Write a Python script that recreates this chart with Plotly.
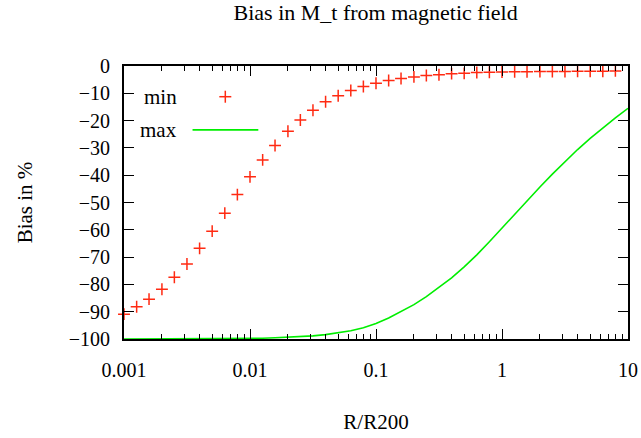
import plotly.graph_objects as go

# Sampled radii (R/R200) for the "min" curve, 10 points per decade
r_min = [0.001, 0.00126, 0.00158, 0.002, 0.00251, 0.00316, 0.00398, 0.00501, 0.00631, 0.00794,
         0.01, 0.0126, 0.0158, 0.02, 0.0251, 0.0316, 0.0398, 0.0501, 0.0631, 0.0794,
         0.1, 0.126, 0.158, 0.2, 0.251, 0.316, 0.398, 0.501, 0.631, 0.794,
         1.0, 1.26, 1.58, 2.0, 2.51, 3.16, 3.98, 5.01, 6.31, 7.94]
bias_min = [-90.9, -88.2, -85.4, -81.8, -77.4, -72.5, -66.8, -60.5, -53.9, -47.1,
            -40.6, -34.4, -29.1, -23.9, -19.8, -16.2, -13.1, -10.9, -9.0, -7.5,
            -6.3, -5.3, -4.6, -4.0, -3.5, -3.2, -2.8, -2.7, -2.4, -2.3,
            -2.2, -2.1, -2.1, -2.0, -2.0, -2.0, -1.9, -1.9, -1.9, -1.8]

# "max" curve
r_max = [0.001, 0.00316, 0.01, 0.0126, 0.0158, 0.02, 0.0251, 0.0316, 0.0398, 0.0501, 0.0631, 0.0794,
         0.1, 0.126, 0.158, 0.2, 0.251, 0.316, 0.398, 0.501, 0.631, 0.794,
         1.0, 1.26, 1.58, 2.0, 2.51, 3.16, 3.98, 5.01, 6.31, 7.94, 10.0]
bias_max = [-100.0, -99.97, -99.8, -99.7, -99.55, -99.4, -99.15, -98.85, -98.4, -97.8, -97.0, -95.9,
            -94.3, -92.3, -90.0, -87.4, -84.5, -81.2, -77.6, -73.6, -69.2, -64.4,
            -59.4, -54.3, -49.2, -44.3, -39.6, -35.0, -30.6, -26.5, -22.6, -19.0, -15.5]

x_tickvals = [0.001, 0.01, 0.1, 1, 10]
x_ticktext = ["0.001", "0.01", "0.1", "1", "10"]
x_minorvals = [m * d for d in (0.001, 0.01, 0.1, 1) for m in range(2, 10)]
y_tickvals = [0, -10, -20, -30, -40, -50, -60, -70, -80, -90, -100]

RED = "#ff2a12"
GREEN = "#00ee00"
FONT = "Liberation Serif, Times New Roman, serif"

fig = go.Figure()
fig.add_trace(go.Scatter(
    x=r_min, y=bias_min, mode="markers", name="min",
    marker=dict(symbol="cross-thin", size=8.5, color=RED,
                line=dict(color=RED, width=1.5)),
    cliponaxis=False,
))
fig.add_trace(go.Scatter(
    x=r_max, y=bias_max, mode="lines", name="max",
    line=dict(color=GREEN, width=1.6),
))

axis_common = dict(
    showgrid=False, zeroline=False, showline=True, linecolor="black", linewidth=2,
    mirror="allticks", ticks="inside", ticklen=10, tickwidth=1.2, tickcolor="black",
    tickfont=dict(family=FONT, size=20, color="black"), automargin=False,
)

fig.update_xaxes(
    type="log", range=[-3, 1], tickmode="array", tickvals=x_tickvals, ticktext=x_ticktext,
    ticklabelstandoff=12,
    minor=dict(tickmode="array", tickvals=x_minorvals, ticks="inside", ticklen=5,
               tickwidth=1.2, tickcolor="black", showgrid=False),
    title=dict(text="R/R200", font=dict(family=FONT, size=21, color="black"), standoff=34),
    **axis_common,
)
fig.update_yaxes(
    range=[-100, 0], tickvals=y_tickvals,
    ticklabelstandoff=8,
    title=dict(text="Bias in %", font=dict(family=FONT, size=21, color="black"), standoff=30),
    **axis_common,
)

# Key, gnuplot style: label first, sample after it
key_rows = [("min", 0.8875), ("max", 0.766)]
for label, yk in key_rows:
    fig.add_annotation(x=0.109, y=yk, xref="paper", yref="paper", text=label,
                       showarrow=False, xanchor="right", yanchor="middle",
                       font=dict(family=FONT, size=21, color="black"))
px_w, px_h = 504.0, 273.0
cx, cy = 0.201, 0.8875
fig.add_shape(type="line", xref="paper", yref="paper",
              x0=cx - 6 / px_w, x1=cx + 6 / px_w, y0=cy, y1=cy,
              line=dict(color=RED, width=1.5))
fig.add_shape(type="line", xref="paper", yref="paper",
              x0=cx, x1=cx, y0=cy - 6 / px_h, y1=cy + 6 / px_h,
              line=dict(color=RED, width=1.5))
fig.add_shape(type="line", xref="paper", yref="paper",
              x0=0.136, x1=0.2665, y0=0.766, y1=0.766,
              line=dict(color=GREEN, width=1.6))

fig.update_layout(
    width=641, height=438,
    margin=dict(l=124, r=13, t=66, b=99),
    paper_bgcolor="white", plot_bgcolor="white",
    showlegend=False,
    title=dict(text="Bias in M_t from magnetic field", x=0.586, xanchor="center",
               y=0.972, yanchor="middle",
               font=dict(family=FONT, size=22, color="black")),
)

fig.write_html("out.html")
